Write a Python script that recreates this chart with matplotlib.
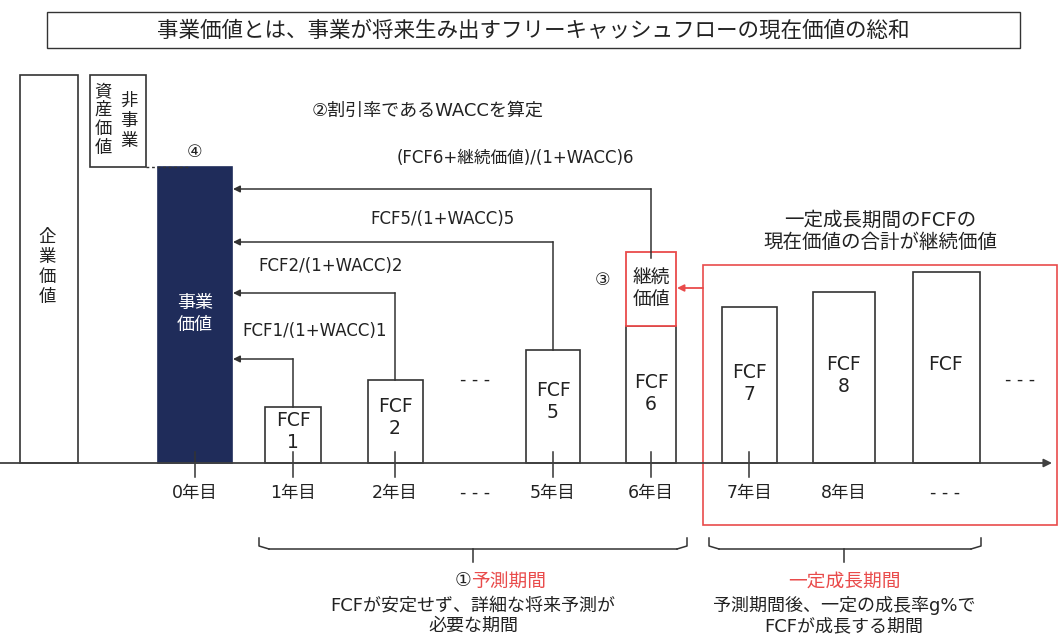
import matplotlib
matplotlib.use("Agg")
import matplotlib.pyplot as plt
from matplotlib.patches import Rectangle

plt.rcParams["font.family"] = ["DejaVu Sans", "Noto Sans CJK JP"]

# ---------------------------------------------------------------------------
# データ(高さはピクセル単位の相対値)
# ---------------------------------------------------------------------------
TITLE = "事業価値とは、事業が将来生み出すフリーキャッシュフローの現在価値の総和"

ev_height = 388          # 企業価値
nonop_height = 92        # 非事業資産価値
biz_height = 296         # 事業価値
tv_height = 74           # 継続価値

fcf_labels = ["FCF\n1", "FCF\n2", "FCF\n5", "FCF\n6", "FCF\n7", "FCF\n8", "FCF"]
fcf_heights = [56, 83, 113, 137, 156, 171, 191]

year_labels = ["0年目", "1年目", "2年目", "- - -", "5年目", "6年目", "7年目", "8年目", "- - -"]
discount_labels = ["FCF1/(1+WACC)1", "FCF2/(1+WACC)2", "FCF5/(1+WACC)5",
                   "(FCF6+継続価値)/(1+WACC)6"]

# ---------------------------------------------------------------------------
# レイアウト
# ---------------------------------------------------------------------------
BASE = 463
fcf_x = [293, 395, 553, 651, 749, 844, 946]
fcf_w = [56, 55, 54, 50, 55, 62, 67]
fcf_text_y = [431, 418, 402, 393, 383, 376, 364]
year_x = [195, 293, 395, 475, 553, 651, 749, 844, 945]
tick_x = [195, 293, 395, 553, 651, 749]
arrow_y = [359, 293, 242, 189]
label_xy = [(242, 331), (258, 266), (370, 219), (397, 158)]

EDGE = "#333333"
NAVY = "#1f2c5a"
RED = "#e94b4b"
TXT = "#222222"

fig = plt.figure(figsize=(10.59, 6.42), dpi=100)
ax = fig.add_axes([0, 0, 1, 1])
ax.set_xlim(0, 1059)
ax.set_ylim(642, 0)
ax.axis("off")

# タイトル枠
ax.add_patch(Rectangle((47, 12), 973, 36, fill=False, ec=EDGE, lw=1.0))
ax.text(533, 30, TITLE, ha="center", va="center", fontsize=15.5, color=TXT)

# 企業価値・非事業資産・事業価値
ax.bar(49, -ev_height, width=58, bottom=BASE, color="white", ec=EDGE, lw=1.2)
ax.bar(118, -nonop_height, width=56, bottom=BASE - biz_height, color="white", ec=EDGE, lw=1.2)
ax.bar(195, -biz_height, width=74, bottom=BASE, color=NAVY, ec=NAVY, lw=1.2)
ax.plot([146, 190], [167, 167], color=EDGE, lw=1, ls=(0, (2, 2)))


def vtext(x, y0, s, step, **kw):
    for i, ch in enumerate(s):
        ax.text(x, y0 + i * step, ch, ha="center", va="center", **kw)


vtext(47, 237, "企業価値", 20, fontsize=12.5, color=TXT)
vtext(103, 91, "資産価値", 19, fontsize=12.5, color=TXT)
vtext(129, 101, "非事業", 20, fontsize=12.5, color=TXT)
ax.text(195, 314, "事業\n価値", ha="center", va="center", fontsize=13,
        color="white", linespacing=1.3)
ax.text(195, 152, "④", ha="center", va="center", fontsize=12.5, color=TXT)

# FCF棒
ax.bar(fcf_x, [-h for h in fcf_heights], width=fcf_w, bottom=BASE,
       color="white", ec=EDGE, lw=1.2)
for x, y, s in zip(fcf_x, fcf_text_y, fcf_labels):
    ax.text(x, y, s, ha="center", va="center", fontsize=13.5, color=TXT,
            linespacing=1.2)

# 継続価値の箱
tv_top = BASE - fcf_heights[3] - tv_height
ax.bar(fcf_x[3], -tv_height, width=fcf_w[3], bottom=BASE - fcf_heights[3],
       color="white", ec=RED, lw=1.3)
ax.text(fcf_x[3], tv_top + 36, "継続\n価値", ha="center", va="center",
        fontsize=13.5, color=TXT, linespacing=1.2)
ax.text(603, 280, "③", ha="center", va="center", fontsize=12.5, color=TXT)

# 時間軸
ax.annotate("", xy=(1052, BASE), xytext=(0, BASE),
            arrowprops=dict(arrowstyle="-|>", color="#404040", lw=1.3,
                            mutation_scale=12, shrinkA=0, shrinkB=0))
for x in tick_x:
    ax.plot([x, x], [452, 477], color=EDGE, lw=1.1)
for x, s in zip(year_x, year_labels):
    ax.text(x, 493, s, ha="center", va="center", fontsize=12.5, color=TXT)
ax.text(475, 380, "- - -", ha="center", va="center", fontsize=12.5, color=TXT)
ax.text(1020, 380, "- - -", ha="center", va="center", fontsize=12.5, color=TXT)

# 割引の矢印
starts = [(fcf_x[0], BASE - fcf_heights[0]), (fcf_x[1], BASE - fcf_heights[1]),
          (fcf_x[2], BASE - fcf_heights[2]), (fcf_x[3], tv_top + 6)]
for (sx, sy), ay, (lx, ly), s in zip(starts, arrow_y, label_xy, discount_labels):
    ax.plot([sx, sx], [sy, ay], color=EDGE, lw=1.1)
    ax.annotate("", xy=(233, ay), xytext=(sx, ay),
                arrowprops=dict(arrowstyle="-|>", color=EDGE, lw=1.1,
                                mutation_scale=10, shrinkA=0, shrinkB=0))
    ax.text(lx, ly, s, ha="left", va="center", fontsize=12, color=TXT)

ax.text(312, 111, "②割引率であるWACCを算定", ha="left", va="center",
        fontsize=13, color=TXT)

# 一定成長期間の枠
ax.add_patch(Rectangle((703, 265), 354, 260, fill=False, ec=RED, lw=1.2))
ax.annotate("", xy=(677, 288), xytext=(703, 288),
            arrowprops=dict(arrowstyle="-|>", color=RED, lw=1.3,
                            mutation_scale=10, shrinkA=0, shrinkB=0))
ax.text(880, 231, "一定成長期間のFCFの\n現在価値の合計が継続価値", ha="center",
        va="center", fontsize=14, color=TXT, linespacing=1.2)


# 波括弧
def brace(x0, x1, xm):
    r = 10
    ax.plot([x0, x0, x0 + r], [538, 546, 549], color=EDGE, lw=1.1)
    ax.plot([x1, x1, x1 - r], [538, 546, 549], color=EDGE, lw=1.1)
    ax.plot([x0 + r, x1 - r], [549, 549], color=EDGE, lw=1.1)
    ax.plot([xm, xm], [549, 562], color=EDGE, lw=1.1)


brace(259, 687, 473)
brace(709, 981, 844)

ax.text(471, 581, "①", ha="right", va="center", fontsize=13.5, color=TXT)
ax.text(471, 581, "予測期間", ha="left", va="center", fontsize=13.5, color=RED)
ax.text(473, 616, "FCFが安定せず、詳細な将来予測が\n必要な期間", ha="center",
        va="center", fontsize=13, color=TXT, linespacing=1.15)
ax.text(844, 581, "一定成長期間", ha="center", va="center", fontsize=13.5, color=RED)
ax.text(844, 616, "予測期間後、一定の成長率g%で\nFCFが成長する期間", ha="center",
        va="center", fontsize=13, color=TXT, linespacing=1.15)

fig.savefig("out.png", dpi=100)
